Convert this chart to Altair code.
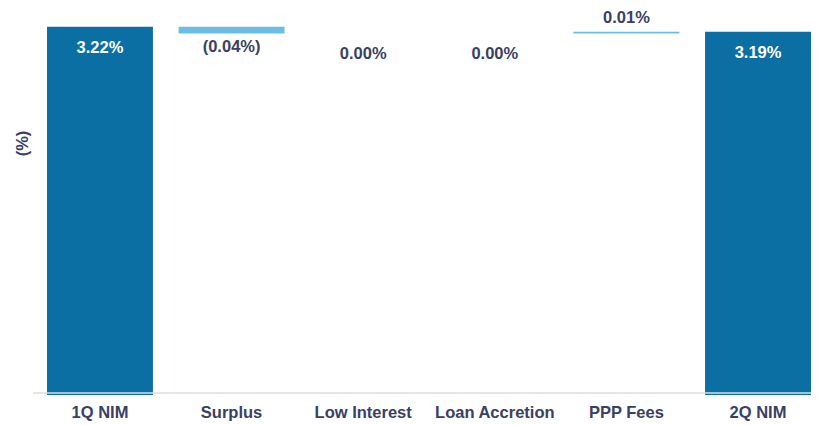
import altair as alt
import pandas as pd

categories = ["1Q NIM", "Surplus", "Low Interest", "Loan Accretion", "PPP Fees", "2Q NIM"]
values = [3.22, -0.04, 0.00, 0.00, 0.01, 3.19]
kinds = ["total", "delta", "delta", "delta", "delta", "total"]
labels = ["3.22%", "(0.04%)", "0.00%", "0.00%", "0.01%", "3.19%"]

Y_MIN, Y_MAX = 1.02, 3.32
W, H = 764, 385

rows = []
running = 0.0
for c, v, k, lab in zip(categories, values, kinds, labels):
    if k == "total":
        lo, hi = Y_MIN, v
        running = v
        tk = "total"
        anchor = v
    else:
        lo, hi = running, running + v
        running = running + v
        if v < 0:
            tk = "neg"
            anchor = min(lo, hi)
        elif v > 0:
            tk = "pos"
            anchor = max(lo, hi)
        else:
            tk = "zero"
            anchor = hi
    rows.append(dict(cat=c, lo=lo, hi=hi, kind=k, tk=tk, anchor=anchor, label=lab))
df = pd.DataFrame(rows)

DARK = "#0b6fa4"
LIGHT = "#6cbde4"
TXT = "#3a4063"
FONT = "Liberation Sans"
FS = 16.5

xenc = alt.X("cat:N", sort=categories,
             scale=alt.Scale(paddingInner=0.195, paddingOuter=0),
             axis=alt.Axis(title=None, labelAngle=0, ticks=False, domain=False,
                           labelFont=FONT, labelFontSize=FS, labelFontWeight="bold",
                           labelColor=TXT, labelPadding=9))
yscale = alt.Scale(domain=[Y_MIN, Y_MAX], zero=False, nice=False, clamp=True)

base = alt.Chart(df)

bars = base.mark_bar().encode(
    x=xenc,
    y=alt.Y("hi:Q", scale=yscale,
            axis=alt.Axis(title="(%)", labels=False, ticks=False, domain=False, grid=False,
                          titleFont=FONT, titleFontSize=FS, titleFontWeight="bold",
                          titleColor=TXT, titleX=-17, titleY=133, titleAngle=-90)),
    y2="lo:Q",
    color=alt.Color("kind:N", scale=alt.Scale(domain=["total", "delta"], range=[DARK, LIGHT]),
                    legend=None),
)

axisline = alt.Chart(pd.DataFrame({"a": [0]})).mark_rule(color="#dcdcdc", strokeWidth=1.5).encode(
    x=alt.value(-14), x2=alt.value(W), y=alt.value(H - 2)
)

def txt(tk, dy, color):
    return base.transform_filter(alt.datum.tk == tk).mark_text(
        font=FONT, fontSize=FS, fontWeight="bold", color=color, baseline="middle", dy=dy
    ).encode(
        x=alt.X("cat:N", sort=categories),
        y=alt.Y("anchor:Q", scale=yscale),
        text="label:N",
    )

chart = alt.layer(
    bars, axisline,
    txt("total", 21, "white"),
    txt("neg", 14, TXT),
    txt("zero", 21, TXT),
    txt("pos", -14, TXT),
).properties(
    width=W, height=H,
    autosize=alt.AutoSizeParams(type="none"),
    padding={"left": 39, "top": 2, "right": 0, "bottom": 30},
).configure_view(stroke=None)

chart.save("out.html", embed_options={"renderer": "svg", "actions": False})
